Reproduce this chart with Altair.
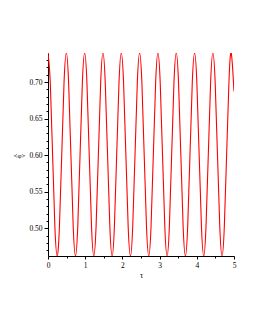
import altair as alt
import pandas as pd

tau = [0.0, 0.0616, 0.1231, 0.1847, 0.2463, 0.3078, 0.3694, 0.4309,
       0.4925, 0.5541, 0.6156, 0.6772, 0.7388, 0.8003, 0.8619, 0.9234,
       0.9850, 1.0466, 1.1081, 1.1697, 1.2313, 1.2928, 1.3544, 1.4159,
       1.4775, 1.5391, 1.6006, 1.6622, 1.7238, 1.7853, 1.8469, 1.9084,
       1.9700, 2.0316, 2.0931, 2.1547, 2.2163, 2.2778, 2.3394, 2.4009,
       2.4625, 2.5241, 2.5856, 2.6472, 2.7088, 2.7703, 2.8319, 2.8934,
       2.9550, 3.0166, 3.0781, 3.1397, 3.2013, 3.2628, 3.3244, 3.3859,
       3.4475, 3.5091, 3.5706, 3.6322, 3.6938, 3.7553, 3.8169, 3.8784,
       3.9400, 4.0016, 4.0631, 4.1247, 4.1863, 4.2478, 4.3094, 4.3709,
       4.4325, 4.4941, 4.5556, 4.6172, 4.6788, 4.7403, 4.8019, 4.8634,
       4.9250, 5.0]
phi = [0.7397, 0.6990, 0.6009, 0.5027, 0.4620, 0.5027, 0.6009, 0.6990,
       0.7397, 0.6990, 0.6009, 0.5027, 0.4620, 0.5027, 0.6009, 0.6990,
       0.7397, 0.6990, 0.6009, 0.5027, 0.4620, 0.5027, 0.6009, 0.6990,
       0.7397, 0.6990, 0.6009, 0.5027, 0.4620, 0.5027, 0.6009, 0.6990,
       0.7397, 0.6990, 0.6009, 0.5027, 0.4620, 0.5027, 0.6009, 0.6990,
       0.7397, 0.6990, 0.6009, 0.5027, 0.4620, 0.5027, 0.6009, 0.6990,
       0.7397, 0.6990, 0.6009, 0.5027, 0.4620, 0.5027, 0.6009, 0.6990,
       0.7397, 0.6990, 0.6009, 0.5027, 0.4620, 0.5027, 0.6009, 0.6990,
       0.7397, 0.6990, 0.6009, 0.5027, 0.4620, 0.5027, 0.6009, 0.6990,
       0.7397, 0.6990, 0.6009, 0.5027, 0.4620, 0.5027, 0.6009, 0.6990,
       0.7397, 0.6870]

x_ticks = [0, 0.5, 1, 1.5, 2, 2.5, 3, 3.5, 4, 4.5, 5]
y_ticks = [0.47, 0.48, 0.49, 0.50, 0.51, 0.52, 0.53, 0.54, 0.55, 0.56,
           0.57, 0.58, 0.59, 0.60, 0.61, 0.62, 0.63, 0.64, 0.65, 0.66,
           0.67, 0.68, 0.69, 0.70, 0.71, 0.72, 0.73]

df = pd.DataFrame({"tau": tau, "phi": phi})

font = "Liberation Serif"

chart = alt.Chart(df).mark_line(
    color="#ff0000", strokeWidth=1.1, interpolate="natural", clip=True
).encode(
    x=alt.X("tau:Q",
            scale=alt.Scale(domain=[0, 5], nice=False, zero=False),
            axis=alt.Axis(values=x_ticks, title="τ", grid=False,
                          labelExpr="datum.value % 1 == 0 ? format(datum.value, 'd') : ''",
                          labelOverlap=False, labelFlush=False, labelBound=False,
                          tickSize={"condition": {"test": "datum.value % 1 == 0", "value": 3}, "value": 2},
                          labelFont=font, labelFontSize=7.5,
                          titleFont=font, titleFontSize=8, titleFontWeight="normal",
                          titlePadding=3, labelPadding=2,
                          domainColor="black", tickColor="black", labelColor="black")),
    y=alt.Y("phi:Q",
            scale=alt.Scale(domain=[0.462, 0.7397], nice=False, zero=False),
            axis=alt.Axis(values=y_ticks, title="<φ>", grid=False,
                          labelOverlap=False, labelFlush=False, labelBound=False,
                          labelExpr="round(datum.value*100) % 5 == 0 ? format(datum.value, '.2f') : ''",
                          tickSize={"condition": {"test": "round(datum.value*100) % 5 == 0", "value": 4}, "value": 2},
                          labelFont=font, labelFontSize=7.5,
                          titleFont=font, titleFontSize=7, titleFontWeight="normal",
                          titleAngle=0, titleX=-29, titleY=102,
                          titleAlign="center", titleBaseline="middle",
                          labelPadding=2,
                          domainColor="black", tickColor="black", labelColor="black")),
).properties(
    width=186, height=203,
    padding={"left": 40, "top": 45, "right": 10, "bottom": 60},
    autosize=alt.AutoSizeParams(type="none"),
).configure_view(
    stroke="transparent", strokeWidth=0
).configure(
    background="white", style={"cell": {"stroke": "transparent", "strokeWidth": 0}}
)

chart.save("out.html", embed_options={"renderer": "svg", "actions": False})
